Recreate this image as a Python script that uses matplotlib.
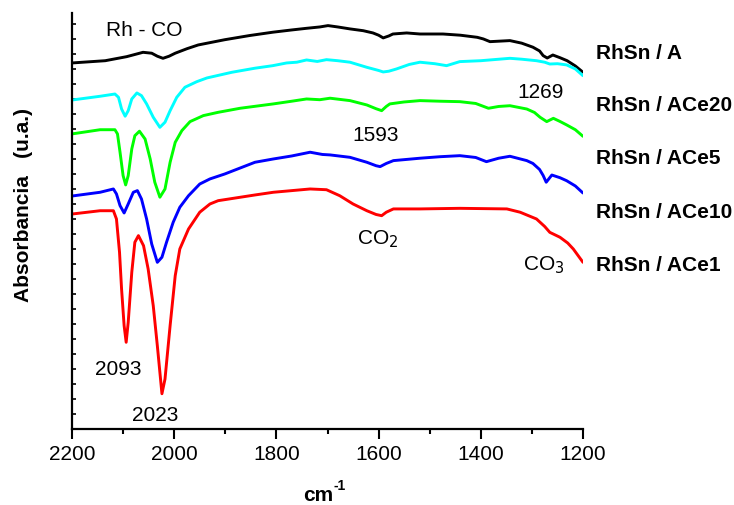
import matplotlib
matplotlib.use("Agg")
import matplotlib.pyplot as plt
from matplotlib.ticker import MultipleLocator, FixedLocator

plt.rcParams['font.family'] = ['Liberation Sans', 'DejaVu Sans']

# ---- data (wavenumber cm-1, absorbance u.a.) ----
wn_A = [2200, 2135, 2093, 2061, 2044, 2033, 2022, 2010, 1998, 1975, 1953, 1901, 1852, 1807, 1770, 1741,
        1715, 1699, 1680, 1656, 1630, 1611, 1600, 1591, 1580, 1572, 1545, 1519, 1474, 1440, 1407, 1395,
        1382, 1343, 1320, 1298, 1285, 1278, 1270, 1259, 1245, 1231, 1215, 1200]
ab_A = [24.40, 24.55, 24.82, 25.11, 25.05, 24.85, 24.71, 24.85, 25.05, 25.35, 25.60, 25.95, 26.23, 26.45, 26.60, 26.71,
        26.80, 26.89, 26.80, 26.67, 26.55, 26.40, 26.25, 26.07, 26.20, 26.33, 26.40, 26.33, 26.33, 26.25, 26.11, 26.00,
        25.82, 25.89, 25.72, 25.45, 25.20, 24.89, 24.73, 24.93, 24.75, 24.55, 24.20, 23.78]

wn_ACe20 = [2200, 2145, 2116, 2109, 2103, 2096, 2090, 2083, 2073, 2064, 2054, 2041, 2028, 2018, 2008, 1995,
            1979, 1956, 1936, 1887, 1842, 1807, 1780, 1760, 1741, 1720, 1702, 1680, 1656, 1623, 1600, 1591,
            1580, 1565, 1540, 1519, 1490, 1467, 1441, 1400, 1343, 1320, 1291, 1275, 1265, 1250, 1232, 1215, 1200]
ab_ACe20 = [21.93, 22.18, 22.33, 22.11, 21.33, 20.85, 21.22, 22.00, 22.40, 22.22, 21.67, 20.78, 20.11, 20.45, 21.22, 22.11,
            22.78, 23.15, 23.40, 23.78, 24.05, 24.22, 24.40, 24.45, 24.60, 24.50, 24.62, 24.55, 24.45, 24.11, 23.90, 23.80,
            23.85, 24.00, 24.30, 24.45, 24.35, 24.22, 24.49, 24.55, 24.71, 24.65, 24.55, 24.45, 24.33, 24.35, 24.27, 24.00, 23.55]

wn_ACe5 = [2200, 2145, 2116, 2111, 2106, 2100, 2095, 2090, 2083, 2077, 2068, 2057, 2047, 2038, 2028, 2018,
           2008, 1998, 1985, 1969, 1943, 1914, 1871, 1806, 1770, 1741, 1715, 1695, 1656, 1623, 1605, 1594,
           1585, 1578, 1550, 1519, 1480, 1441, 1410, 1385, 1365, 1343, 1310, 1295, 1284, 1271, 1258, 1245,
           1232, 1215, 1200]
ab_ACe5 = [19.67, 19.95, 19.95, 19.67, 18.45, 16.89, 16.27, 16.89, 18.67, 19.55, 19.85, 19.33, 18.00, 16.45, 15.45, 16.00,
           17.78, 19.11, 19.89, 20.49, 20.89, 21.11, 21.38, 21.67, 21.85, 22.00, 21.95, 22.05, 21.89, 21.60, 21.35, 21.22,
           21.50, 21.67, 21.80, 21.89, 21.85, 21.82, 21.70, 21.38, 21.50, 21.55, 21.33, 21.10, 20.78, 20.49, 20.71, 20.50,
           20.27, 19.95, 19.51]

wn_ACe10 = [2200, 2145, 2119, 2113, 2106, 2098, 2090, 2080, 2072, 2064, 2054, 2044, 2033, 2024, 2015, 2002,
            1989, 1972, 1950, 1930, 1901, 1842, 1806, 1770, 1734, 1710, 1695, 1656, 1623, 1605, 1597, 1585,
            1571, 1519, 1480, 1441, 1410, 1389, 1365, 1343, 1310, 1298, 1285, 1278, 1272, 1261, 1245, 1232,
            1215, 1200]
ab_ACe10 = [15.53, 15.78, 16.00, 15.67, 14.89, 14.40, 15.00, 15.78, 15.89, 15.33, 14.00, 12.33, 11.11, 11.45, 12.45, 13.78,
            14.78, 15.55, 16.33, 16.67, 17.00, 17.78, 18.00, 18.20, 18.45, 18.30, 18.27, 18.11, 17.78, 17.55, 17.49, 17.70,
            17.89, 18.05, 18.15, 18.22, 18.10, 17.82, 18.05, 18.18, 17.89, 17.70, 17.30, 16.90, 16.45, 16.93, 16.75, 16.55,
            16.20, 15.73]

wn_ACe1 = [2200, 2145, 2119, 2113, 2107, 2103, 2098, 2094, 2090, 2083, 2077, 2070, 2060, 2051, 2041, 2033,
           2024, 2018, 2008, 1998, 1989, 1972, 1950, 1930, 1914, 1842, 1806, 1734, 1702, 1676, 1650, 1623,
           1605, 1594, 1585, 1571, 1519, 1441, 1349, 1323, 1291, 1275, 1265, 1245, 1230, 1219, 1200]
ab_ACe1 = [14.33, 14.55, 14.55, 14.00, 11.78, 9.33, 6.89, 5.78, 7.11, 10.45, 12.45, 12.89, 12.22, 10.67, 8.22, 5.55,
           2.35, 3.33, 6.89, 10.22, 12.00, 13.33, 14.45, 15.00, 15.22, 15.60, 15.78, 16.00, 15.95, 15.55, 15.00, 14.55,
           14.30, 14.22, 14.45, 14.67, 14.67, 14.71, 14.67, 14.45, 14.00, 13.50, 13.11, 12.78, 12.40, 12.00, 11.11]

series_labels = ["RhSn / A", "RhSn / ACe20", "RhSn / ACe5", "RhSn / ACe10", "RhSn / ACe1"]
series_label_y = [25.1, 21.6, 18.1, 14.5, 10.97]
colors = ["#000000", "#00FFFF", "#00FF00", "#0000FF", "#FF0000"]

x_ticks = [2200, 2000, 1800, 1600, 1400, 1200]

fig = plt.figure(figsize=(7.34, 5.06), dpi=100)
ax = fig.add_axes([72/734, 1-430/506, (583-72)/734, (430-14)/506])

series = [(wn_A, ab_A), (wn_ACe20, ab_ACe20), (wn_ACe5, ab_ACe5), (wn_ACe10, ab_ACe10), (wn_ACe1, ab_ACe1)]
for (w, a), c in zip(series, colors):
    ax.plot(w, a, color=c, lw=2.1, solid_joinstyle='round', solid_capstyle='round')

ax.set_xlim(2200, 1200)
ax.set_ylim(0, 27.73)

for s in ['top', 'right']:
    ax.spines[s].set_visible(False)
for s in ['left', 'bottom']:
    ax.spines[s].set_linewidth(1.6)

ax.xaxis.set_major_locator(FixedLocator(x_ticks))
ax.xaxis.set_minor_locator(MultipleLocator(100))
ax.tick_params(axis='x', which='major', direction='out', length=7, width=1.5, labelsize=15, pad=4)
ax.tick_params(axis='x', which='minor', direction='out', length=3.5, width=1.5)
ax.yaxis.set_major_locator(MultipleLocator(1))
ax.tick_params(axis='y', which='major', direction='in', length=3, width=1.2, labelleft=False)

# x label: "cm" with superscript "-1"
fig.text(333/734, 1-496/506, "cm", fontsize=15, fontweight='bold', ha='right', va='center')
fig.text(334/734, 1-486/506, "-1", fontsize=10, fontweight='bold', ha='left', va='center')

fig.text(24/734, 1-205/506, "Absorbancia   (u.a.)", rotation=90, fontsize=15,
         fontweight='bold', ha='center', va='center')

# annotations
ax.text(2133, 26.63, "Rh - CO", fontsize=15, ha='left', va='center')
ax.text(1329, 22.5, "1269", fontsize=15, ha='left', va='center')
ax.text(1652, 19.63, "1593", fontsize=15, ha='left', va='center')
ax.text(1642, 12.73, "CO$_2$", fontsize=15, ha='left', va='center')
ax.text(1317, 11.0, "CO$_3$", fontsize=15, ha='left', va='center')
ax.text(2155, 4.03, "2093", fontsize=15, ha='left', va='center')
ax.text(2083, 0.97, "2023", fontsize=15, ha='left', va='center')

for lab, y in zip(series_labels, series_label_y):
    ax.text(1175, y, lab, fontsize=15, fontweight='bold', ha='left', va='center', clip_on=False)

fig.savefig("out.png", dpi=100)
